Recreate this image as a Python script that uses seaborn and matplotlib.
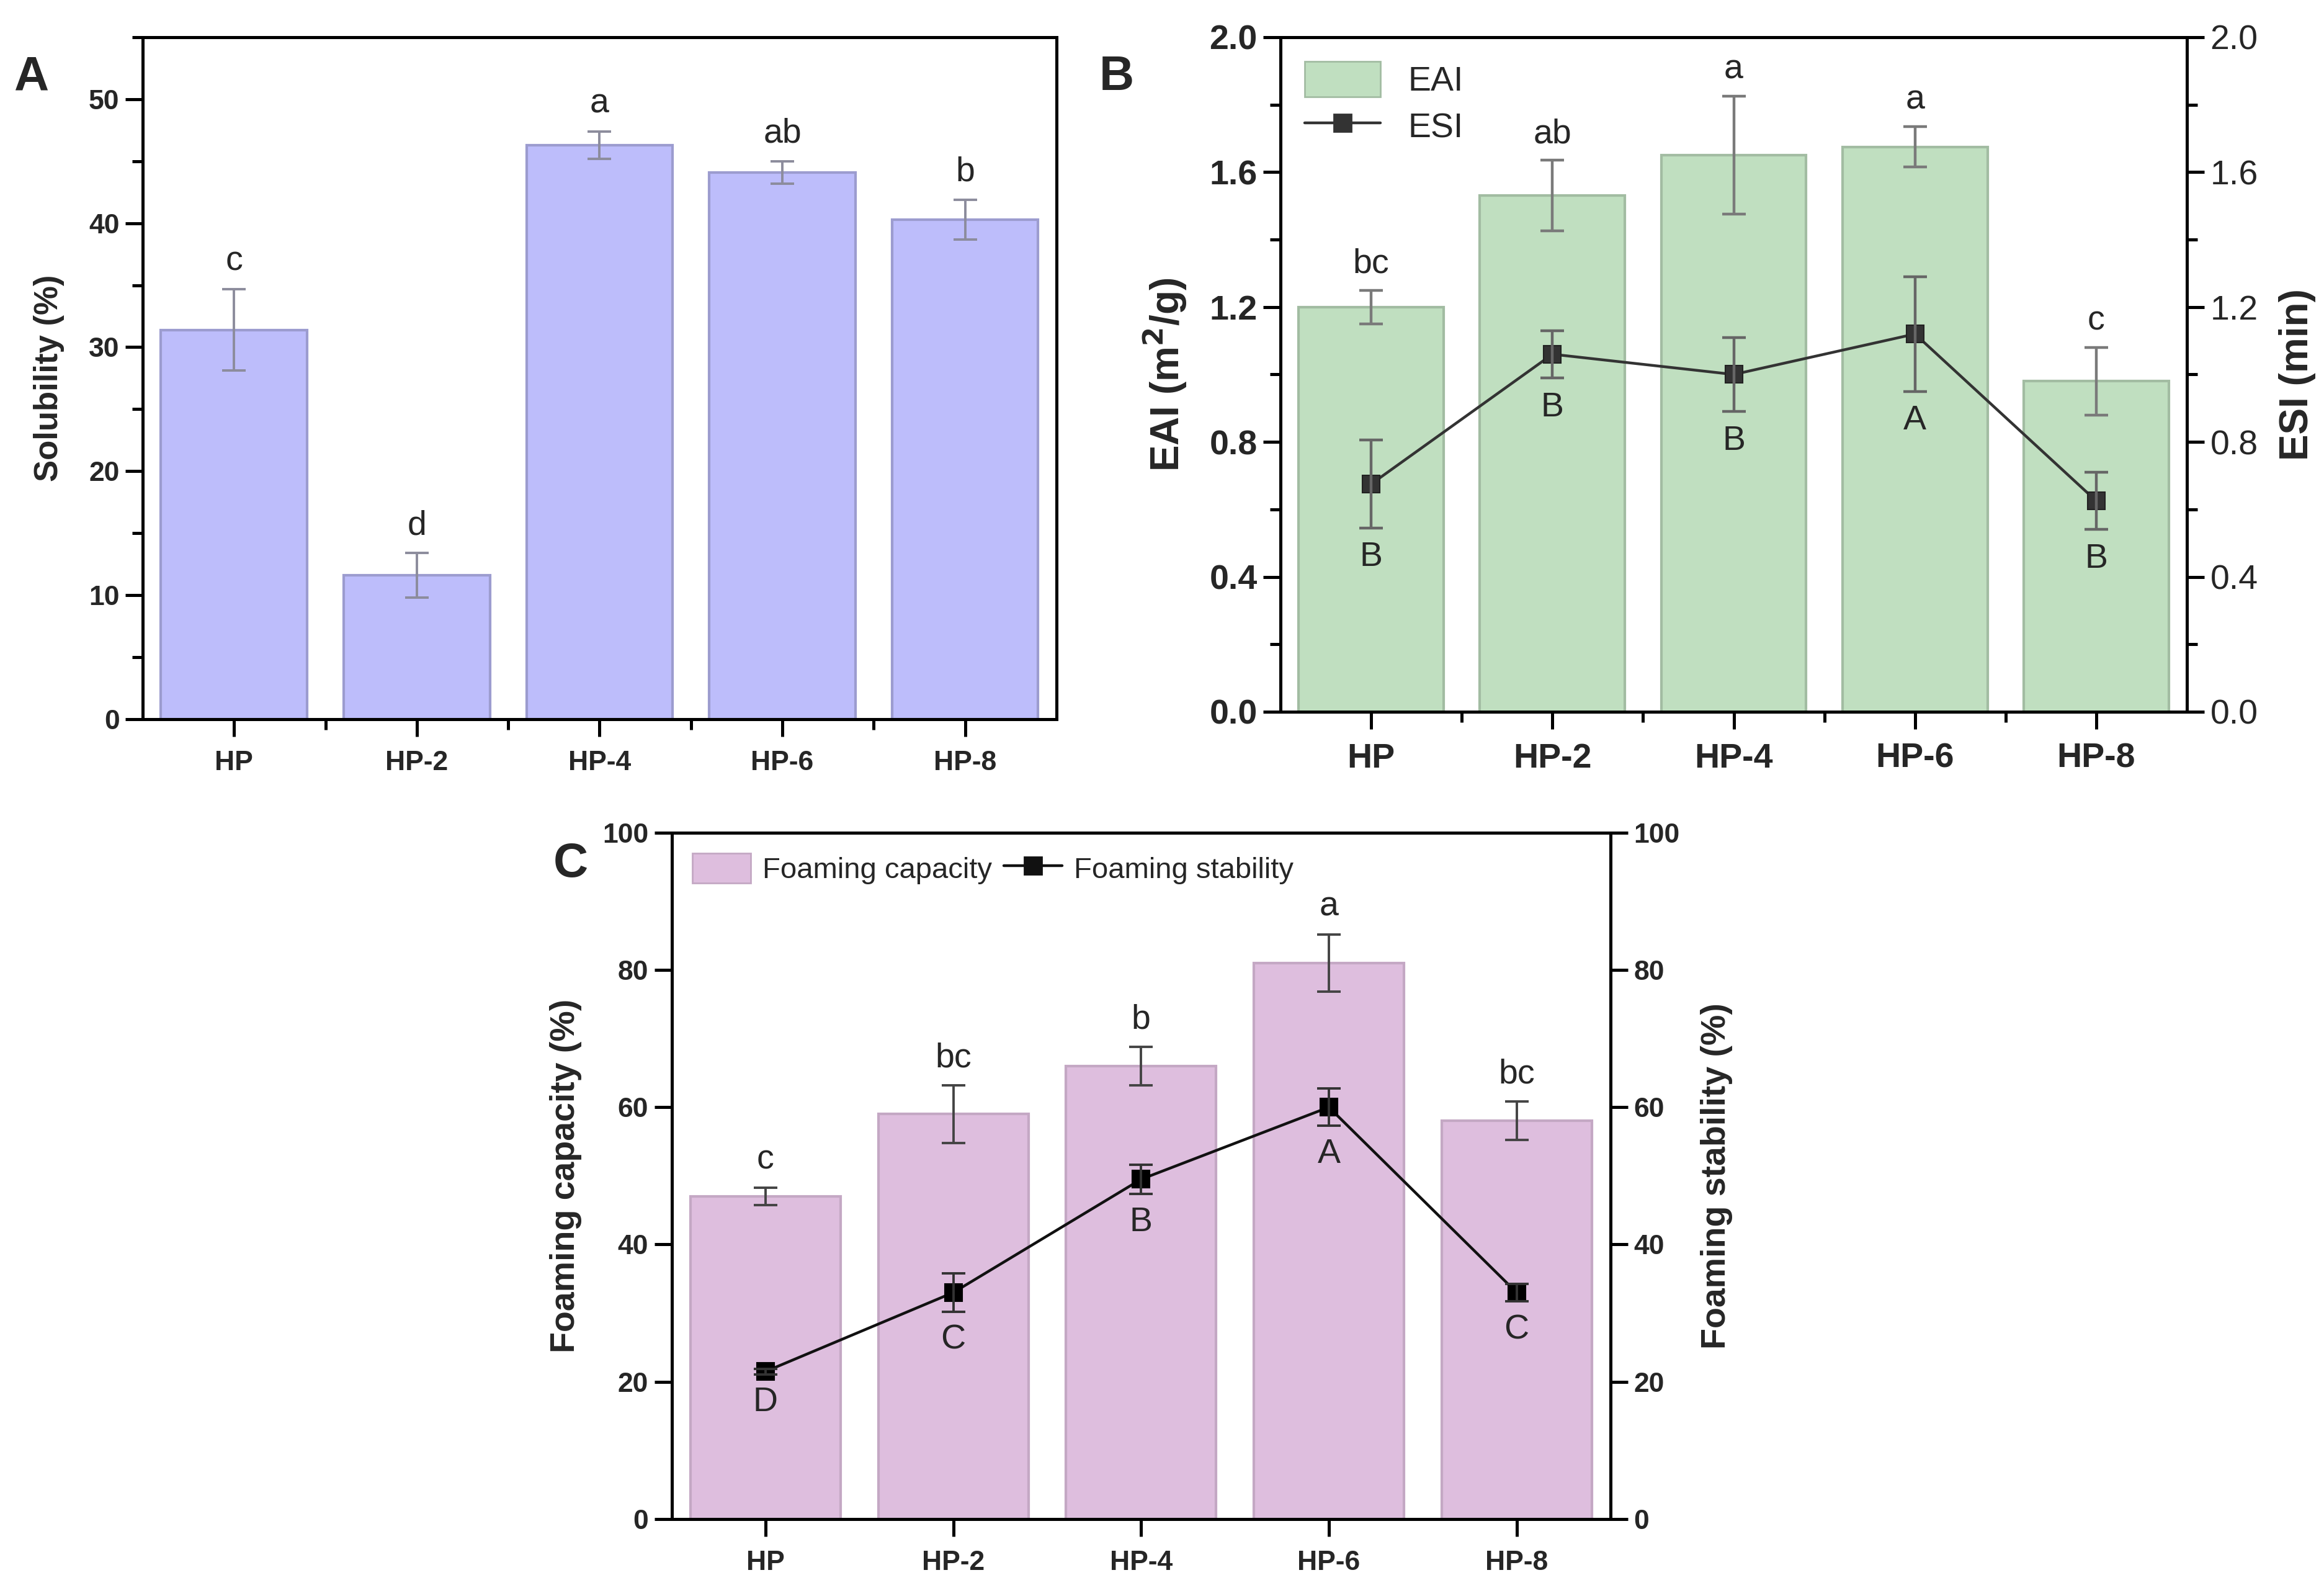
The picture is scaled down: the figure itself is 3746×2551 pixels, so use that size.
import numpy as np
import matplotlib
matplotlib.use("Agg")
import matplotlib.pyplot as plt
from matplotlib.ticker import MultipleLocator, FormatStrFormatter
from matplotlib.lines import Line2D
from matplotlib.patches import Patch
import seaborn as sns

# ---------------- data ----------------
samples = ["HP", "HP-2", "HP-4", "HP-6", "HP-8"]

solubility = [31.4, 11.6, 46.3, 44.1, 40.3]
solubility_err = [3.3, 1.8, 1.1, 0.9, 1.6]
solubility_letters = ["c", "d", "a", "ab", "b"]

eai = [1.20, 1.53, 1.65, 1.675, 0.98]
eai_err = [0.05, 0.105, 0.175, 0.06, 0.10]
eai_letters = ["bc", "ab", "a", "a", "c"]
esi = [0.675, 1.06, 1.00, 1.12, 0.625]
esi_err = [0.13, 0.07, 0.11, 0.17, 0.085]
esi_letters = ["B", "B", "B", "A", "B"]

fc = [47.0, 59.0, 66.0, 81.0, 58.0]
fc_err = [1.3, 4.2, 2.8, 4.2, 2.8]
fc_letters = ["c", "bc", "b", "a", "bc"]
fs = [21.5, 33.0, 49.5, 60.0, 33.0]
fs_err = [0.4, 2.8, 2.1, 2.7, 1.3]
fs_letters = ["D", "C", "B", "A", "C"]

# ---------------- style ----------------
sns.set_theme(style="ticks")
NARROW = ["Liberation Sans Narrow", "Liberation Sans", "DejaVu Sans"]
ARIAL = ["Liberation Sans", "DejaVu Sans"]
plt.rcParams["font.family"] = ARIAL
plt.rcParams["axes.linewidth"] = 1.8

fig = plt.figure(figsize=(3746 / 200, 2551 / 200), dpi=200)

x = np.arange(len(samples))


def style_axes(ax, tick_fs, xtick_fs, ymaj, ymin_, ylim):
    ax.set_xlim(-0.5, 4.5)
    ax.set_ylim(*ylim)
    ax.set_xticks(x)
    ax.set_xticks(x[:-1] + 0.5, minor=True)
    ax.set_xticklabels(samples, fontsize=xtick_fs, fontweight="bold", family=NARROW)
    ax.yaxis.set_major_locator(MultipleLocator(ymaj))
    ax.yaxis.set_minor_locator(MultipleLocator(ymin_))
    for lab in ax.get_yticklabels():
        lab.set_fontsize(tick_fs)
        lab.set_fontweight("bold")
        lab.set_family(NARROW)
    ax.tick_params(axis="both", which="major", direction="out", length=10, width=1.8, color="black")
    ax.tick_params(axis="both", which="minor", direction="out", length=6, width=1.8, color="black")
    ax.tick_params(axis="x", which="major", pad=8)
    ax.tick_params(top=False, right=False, which="both")
    for s in ax.spines.values():
        s.set_visible(True)
        s.set_color("black")
        s.set_linewidth(1.8)
    ax.set_xlabel("")


def style_right(ax2, tick_fs, ymaj, ymin_, ylim, fmt=None, bold=False):
    ax2.set_ylim(*ylim)
    ax2.yaxis.set_major_locator(MultipleLocator(ymaj))
    if ymin_:
        ax2.yaxis.set_minor_locator(MultipleLocator(ymin_))
    if fmt:
        ax2.yaxis.set_major_formatter(FormatStrFormatter(fmt))
    for lab in ax2.get_yticklabels():
        lab.set_fontsize(tick_fs)
        lab.set_family(NARROW)
        if bold:
            lab.set_fontweight("bold")
    ax2.tick_params(axis="y", which="major", direction="out", length=10, width=1.8, color="black")
    ax2.tick_params(axis="y", which="minor", direction="out", length=6, width=1.8, color="black")
    for s in ax2.spines.values():
        s.set_linewidth(1.8)
        s.set_color("black")


# ---------------- Panel A ----------------
axA = fig.add_axes([0.0614, 0.5457, 0.3932, 0.4308])
sns.barplot(x=samples, y=solubility, ax=axA, color="#BDBDFB", edgecolor="#9C9CCF",
            linewidth=1.5, width=0.8, saturation=1)
axA.errorbar(x, solubility, yerr=solubility_err, fmt="none", ecolor="#8C8C9C",
             elinewidth=1.4, capsize=7, capthick=1.4)
for i in x:
    axA.text(i, solubility[i] + solubility_err[i] + 0.9, solubility_letters[i],
             ha="center", va="bottom", fontsize=20, family=NARROW)
style_axes(axA, 16, 16, 10, 5, (0, 55))
axA.set_ylabel("Solubility (%)", fontsize=19, fontweight="bold", labelpad=14)
fig.text(0.006, 0.951, "A", fontsize=28, fontweight="bold", va="center")

# ---------------- Panel B ----------------
axB = fig.add_axes([0.551, 0.5504, 0.390, 0.4261])
sns.barplot(x=samples, y=eai, ax=axB, color="#C0DFC0", edgecolor="#A2BCA2",
            linewidth=1.5, width=0.8, saturation=1)
axB.errorbar(x, eai, yerr=eai_err, fmt="none", ecolor="#7A7A7A",
             elinewidth=1.6, capsize=7, capthick=1.6)
for i in x:
    axB.text(i, eai[i] + eai_err[i] + 0.03, eai_letters[i],
             ha="center", va="bottom", fontsize=20, family=NARROW)
style_axes(axB, 20, 20, 0.4, 0.2, (0, 2.0))
axB.yaxis.set_major_formatter(FormatStrFormatter("%.1f"))
for lab in axB.get_yticklabels():
    lab.set_fontsize(20)
    lab.set_fontweight("bold")
axB.set_ylabel("EAI (m$^\\mathbf{2}$/g)", fontsize=23, fontweight="bold", labelpad=12)

axB2 = axB.twinx()
sns.lineplot(x=x, y=esi, ax=axB2, color="#333333", linewidth=1.6, marker="s",
             markersize=10, markeredgecolor="#222222", markerfacecolor="#333333")
axB2.errorbar(x, esi, yerr=esi_err, fmt="none", ecolor="#666666",
              elinewidth=1.6, capsize=7, capthick=1.6)
for i in x:
    axB2.text(i, esi[i] - esi_err[i] - 0.04, esi_letters[i],
              ha="center", va="top", fontsize=20, family=NARROW)
style_right(axB2, 20, 0.4, 0.2, (0, 2.0), fmt="%.1f")
axB2.set_ylabel("ESI (min)", fontsize=23, fontweight="bold", labelpad=12)
legB = [Patch(facecolor="#C0DFC0", edgecolor="#A2BCA2", label="EAI"),
        Line2D([0], [0], color="#333333", marker="s", markersize=10, linewidth=1.6, label="ESI")]
axB.legend(handles=legB, loc="upper left", frameon=False, prop={"family": NARROW, "size": 20},
           handlelength=2.2, handleheight=1.2, borderaxespad=0.3, labelspacing=0.3)
fig.text(0.473, 0.951, "B", fontsize=28, fontweight="bold", va="center")

# ---------------- Panel C ----------------
axC = fig.add_axes([0.289, 0.0404, 0.404, 0.4336])
sns.barplot(x=samples, y=fc, ax=axC, color="#DEBEDE", edgecolor="#C4A8C4",
            linewidth=1.5, width=0.8, saturation=1)
axC.errorbar(x, fc, yerr=fc_err, fmt="none", ecolor="#444444",
             elinewidth=1.4, capsize=7, capthick=1.4)
for i in x:
    axC.text(i, fc[i] + fc_err[i] + 1.6, fc_letters[i],
             ha="center", va="bottom", fontsize=20, family=NARROW)
style_axes(axC, 16, 16, 20, 10, (0, 100))
axC.yaxis.set_minor_locator(plt.NullLocator())
axC.set_xticks([], minor=True)
axC.set_ylabel("Foaming capacity (%)", fontsize=20, fontweight="bold", labelpad=12)

axC2 = axC.twinx()
sns.lineplot(x=x, y=fs, ax=axC2, color="#111111", linewidth=1.6, marker="s",
             markersize=10, markeredgecolor="#000000", markerfacecolor="#000000")
axC2.errorbar(x, fs, yerr=fs_err, fmt="none", ecolor="#333333",
              elinewidth=1.4, capsize=7, capthick=1.4)
for i in x:
    axC2.text(i, fs[i] - fs_err[i] - 1.8, fs_letters[i],
              ha="center", va="top", fontsize=20, family=NARROW)
style_right(axC2, 16, 20, None, (0, 100), bold=True)
axC2.set_ylabel("Foaming stability (%)", fontsize=20, fontweight="bold", labelpad=12)
legC = [Patch(facecolor="#DEBEDE", edgecolor="#C4A8C4", label="Foaming capacity"),
        Line2D([0], [0], color="#111111", marker="s", markersize=10, linewidth=1.6,
               label="Foaming stability")]
axC.legend(handles=legC, loc="upper left", ncol=2, frameon=False,
           prop={"family": NARROW, "size": 17}, handlelength=2.0, handleheight=1.2,
           columnspacing=0.4, handletextpad=0.4, borderaxespad=0.3)
fig.text(0.238, 0.454, "C", fontsize=28, fontweight="bold", va="center")

fig.savefig("out.png", dpi=200)
